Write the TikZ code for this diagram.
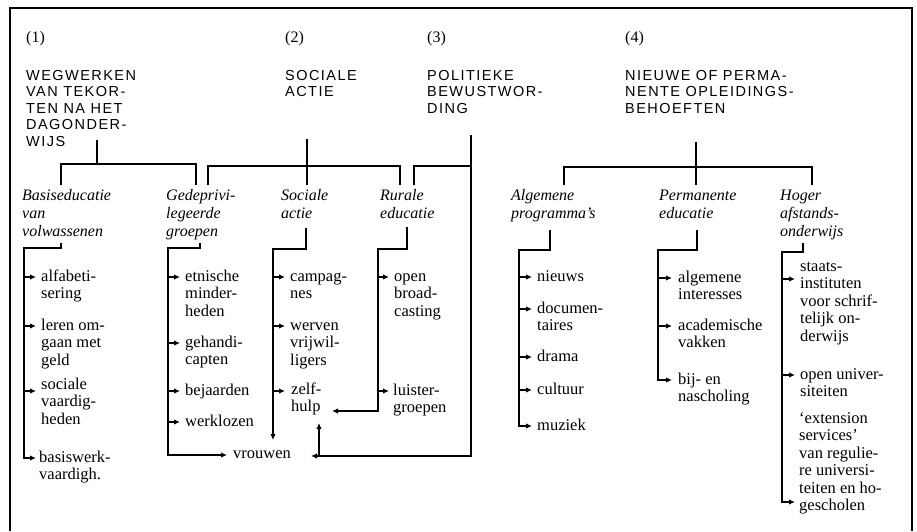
\documentclass[tikz,border=0pt]{standalone}
\usepackage{fontspec}
\setmainfont{Liberation Serif}
\newfontfamily\headfont{Liberation Sans}[LetterSpace=10]
\usetikzlibrary{arrows.meta}
\begin{document}
\begin{tikzpicture}[x=1pt,y=-1pt,
	conn/.style={line width=1.5pt},
	arr/.style={conn,-{Latex[length=6pt,width=5.5pt]}},
	num/.style={anchor=base west,inner sep=0,font=\fontsize{16}{18}\selectfont},
	head/.style={anchor=base west,inner sep=0,align=left,font=\headfont\fontsize{14.5}{16.5}\selectfont},
	sub/.style={anchor=base west,inner sep=0,align=left,font=\itshape\fontsize{16}{18}\selectfont},
	leaf/.style={anchor=base west,inner sep=0,align=left,font=\fontsize{16.5}{17.5}\selectfont}]
		\useasboundingbox (0,0) rectangle (917,531);
		\draw[line width=1.2pt] (10,531) |- (912,8) -- (912,531);
		\node[num] (n1) at (26,42) {(1)};
		\node[num] (n2) at (285,42) {(2)};
		\node[num] (n3) at (427,42) {(3)};
		\node[num] (n4) at (625,42) {(4)};
		\node[head] (h1) at (26,146) {WEGWERKEN\\VAN TEKOR-\\TEN NA HET\\DAGONDER-\\WIJS};
		\node[head] (h2) at (285,96.5) {SOCIALE\\ACTIE};
		\node[head] (h3) at (427,113) {POLITIEKE\\BEWUSTWOR-\\DING};
		\node[head] (h4) at (625,113) {NIEUWE OF PERMA-\\NENTE OPLEIDINGS-\\BEHOEFTEN};
		\node[sub] (sA) at (22,236) {Basiseducatie\\van\\volwassenen};
		\node[sub] (sB) at (166,236) {Gedeprivi-\\legeerde\\groepen};
		\node[sub] (sC) at (281,218) {Sociale\\actie};
		\node[sub] (sD) at (380,218) {Rurale\\educatie};
		\node[sub] (sF) at (511,218) {Algemene\\programma's};
		\node[sub] (sG) at (659,218) {Permanente\\educatie};
		\node[sub] (sH) at (780,236) {Hoger\\afstands-\\onderwijs};
		\coordinate (t1) at (97,140); \coordinate (j1) at (97,164);
		\coordinate (l1) at (61,185); \coordinate (r1) at (196,185);
		\coordinate (t2) at (307,139); \coordinate (j2) at (307,166); \coordinate (m2) at (307,185);
		\coordinate (l2) at (208,185); \coordinate (r2) at (400,185);
		\coordinate (t3) at (471,135); \coordinate (j3) at (471,166); \coordinate (l3) at (414,185);
		\coordinate (t4) at (696,142); \coordinate (j4) at (696,167); \coordinate (m4) at (696,185);
		\coordinate (l4) at (564,185); \coordinate (r4) at (812,185);
		\draw[conn] (t1) -- (j1);
		\draw[conn] (l1) |- (j1) -| (r1);
		\draw[conn] (t2) -- (m2);
		\draw[conn] (l2) |- (j2) -| (r2);
		\draw[conn] (l3) |- (j3);
		\draw[conn] (t4) -- (m4);
		\draw[conn] (l4) |- (j4) -| (r4);
		\node[leaf] (iA1) at (41,298.5) {alfabeti-\\sering};
		\node[leaf] (iA2) at (41,365) {leren om-\\gaan met\\geld};
		\node[leaf] (iA3) at (41,424) {sociale\\vaardig-\\heden};
		\node[leaf] (iA4) at (39,479.5) {basiswerk-\\vaardigh.};
		\node[leaf] (iB1) at (185,316) {etnische\\minder-\\heden};
		\node[leaf] (iB2) at (185,364.5) {gehandi-\\capten};
		\node[leaf] (iB3) at (185,395) {bejaarden};
		\node[leaf] (iB4) at (185,426) {werklozen};
		\node[leaf] (vr) at (233,458) {vrouwen};
		\node[leaf] (iC1) at (290,298.5) {campag-\\nes};
		\node[leaf] (iC2) at (290,365) {werven\\vrijwil-\\ligers};
		\node[leaf] (iC3) at (291,411.5) {zelf-\\hulp};
		\node[leaf] (iD1) at (394,316) {open\\broad-\\casting};
		\node[leaf] (iD2) at (393,412.5) {luister-\\groepen};
		\node[leaf] (iF1) at (537,281) {nieuws};
		\node[leaf] (iF2) at (537,330.5) {documen-\\taires};
		\node[leaf] (iF3) at (537,361) {drama};
		\node[leaf] (iF4) at (537,394) {cultuur};
		\node[leaf] (iF5) at (537,430) {muziek};
		\node[leaf] (iG1) at (678,299.5) {algemene\\interesses};
		\node[leaf] (iG2) at (678,347.5) {academische\\vakken};
		\node[leaf] (iG3) at (678,401.5) {bij- en\\nascholing};
		\node[leaf] (iH1) at (800,341) {staats-\\instituten\\voor schrif-\\telijk on-\\derwijs};
		\node[leaf] (iH2) at (800,396.5) {open univer-\\siteiten};
		\node[leaf] (iH3) at (799,510.5) {`extension\\services'\\van regulie-\\re universi-\\teiten en ho-\\gescholen};
		\coordinate (uA) at (61,243); \coordinate (kA) at (24,248);
		\coordinate (a1) at (36,277); \coordinate (a2) at (36,326); \coordinate (a3) at (36,391); \coordinate (a4) at (36,458);
		\draw[arr] (uA) |- (kA) |- (a4);
		\foreach \i in {1,2,3} \draw[arr] (kA |- a\i) -- (a\i);
		\coordinate (uB) at (200,243); \coordinate (kB) at (168,248); \coordinate (vW) at (227,455);
		\coordinate (b1) at (180,277); \coordinate (b2) at (180,343); \coordinate (b3) at (180,391); \coordinate (b4) at (180,422);
		\draw[arr] (uB) |- (kB) |- (vW);
		\foreach \i in {1,...,4} \draw[arr] (kB |- b\i) -- (b\i);
		\coordinate (uC) at (306,228); \coordinate (kC) at (273,249); \coordinate (cE) at (273,440);
		\coordinate (c1) at (285,277); \coordinate (c2) at (285,326); \coordinate (c3) at (285,391);
		\draw[arr] (uC) |- (kC) -- (cE);
		\foreach \i in {1,2,3} \draw[arr] (kC |- c\i) -- (c\i);
		\coordinate (uD) at (407,227); \coordinate (kD) at (378,249); \coordinate (dE) at (332,411);
		\coordinate (d1) at (389,277); \coordinate (d2) at (389,391);
		\draw[arr] (uD) |- (kD) |- (dE);
		\foreach \i in {1,2} \draw[arr] (kD |- d\i) -- (d\i);
		\coordinate (vE) at (311,456); \coordinate (vU) at (319,456); \coordinate (zh) at (319,423);
		\draw[arr] (t3) |- (vE);
		\draw[arr] (vU) -- (zh);
		\coordinate (uF) at (550,230); \coordinate (kF) at (519,250);
		\coordinate (f1) at (532,277); \coordinate (f2) at (532,309); \coordinate (f3) at (532,357); \coordinate (f4) at (532,390); \coordinate (f5) at (532,426);
		\draw[arr] (uF) |- (kF) |- (f5);
		\foreach \i in {1,...,4} \draw[arr] (kF |- f\i) -- (f\i);
		\coordinate (uG) at (697,230); \coordinate (kG) at (658,250);
		\coordinate (g1) at (672,278); \coordinate (g2) at (672,326); \coordinate (g3) at (672,380);
		\draw[arr] (uG) |- (kG) |- (g3);
		\foreach \i in {1,2} \draw[arr] (kG |- g\i) -- (g\i);
		\coordinate (uH) at (803,243); \coordinate (kH) at (782,252);
		\coordinate (e1) at (795,279); \coordinate (e2) at (795,375); \coordinate (e3) at (795,502);
		\draw[arr] (uH) |- (kH) |- (e3);
		\foreach \i in {1,2} \draw[arr] (kH |- e\i) -- (e\i);
	\end{tikzpicture}
\end{document}
